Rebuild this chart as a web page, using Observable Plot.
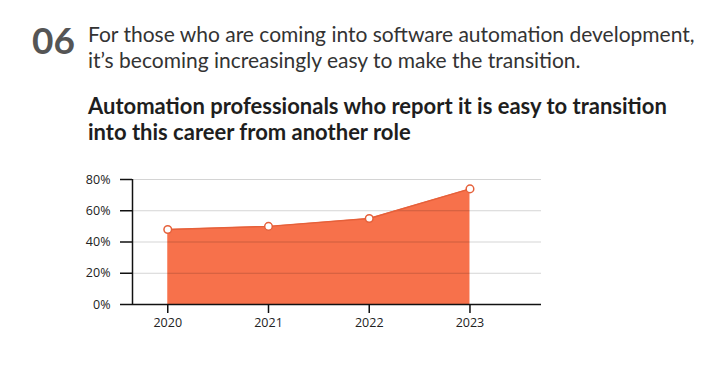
<!DOCTYPE html>
<html><head><meta charset="utf-8">
<script src="https://cdn.jsdelivr.net/npm/d3@7"></script>
<script src="https://cdn.jsdelivr.net/npm/@observablehq/plot@0.6"></script>
<style>
body{margin:0;background:#fff;width:723px;height:378px;overflow:hidden;position:relative;font-family:Lato,sans-serif}
#num{position:absolute;left:32px;top:20px;font-size:37px;font-weight:700;color:#555;line-height:40px}
#intro{position:absolute;left:88px;top:21px;font-size:21px;line-height:26px;color:#333;white-space:nowrap}
#title{position:absolute;left:88px;top:93px;font-size:22px;font-weight:700;line-height:26px;color:#1e1e1e;white-space:nowrap}
#chart{position:absolute;left:0;top:165px}
#chart svg text{font-family:'Open Sans',sans-serif;font-size:12.5px}
</style></head><body>
<div id="num">06</div>
<div id="intro">For those who are coming into software automation development,<br>it’s becoming increasingly easy to make the transition.</div>
<div id="title">Automation professionals who report it is easy to transition<br>into this career from another role</div>
<div id="chart"></div>
<script>
const years = [2020, 2021, 2022, 2023];
const values = [48, 50, 55, 74];
const yTicks = [0, 20, 40, 60, 80];
const xDomain = [2019.65, 2023.71];

const data = years.map((year, i) => ({year, value: values[i]}));

const chart = Plot.plot({
  width: 723,
  height: 213,
  marginLeft: 132,
  marginRight: 182,
  marginTop: 14,
  marginBottom: 74,
  style: {fontFamily: "'Open Sans', sans-serif", fontSize: "12.5px", color: "#222", background: "#fff"},
  x: {domain: xDomain},
  y: {domain: [0, 80]},
  marks: [
    Plot.areaY(data, {x: "year", y: "value", fill: "#F7714B"}),
    Plot.gridY(yTicks.slice(1), {stroke: "#000", strokeOpacity: 0.17}),
    Plot.lineY(data, {x: "year", y: "value", stroke: "#E5603A", strokeWidth: 1.5}),
    Plot.ruleY([0], {stroke: "#111", strokeWidth: 1.5}),
    Plot.ruleX([xDomain[0]], {y1: 0, y2: 80, stroke: "#111", strokeWidth: 1.5}),
    Plot.axisY(yTicks, {tickSize: 12, tickPadding: 10, tickFormat: d => d + "%", stroke: "#111", strokeWidth: 1.5, label: null, fill: "#222"}),
    Plot.axisX(years, {tickSize: 9, tickPadding: 5, tickFormat: d => String(d), stroke: "#111", strokeWidth: 1.5, label: null, fill: "#222"}),
    Plot.dot(data, {x: "year", y: "value", r: 3.8, fill: "#fff", stroke: "#E5603A", strokeWidth: 1.5})
  ]
});
document.getElementById("chart").appendChild(chart);
</script>
</body></html>
